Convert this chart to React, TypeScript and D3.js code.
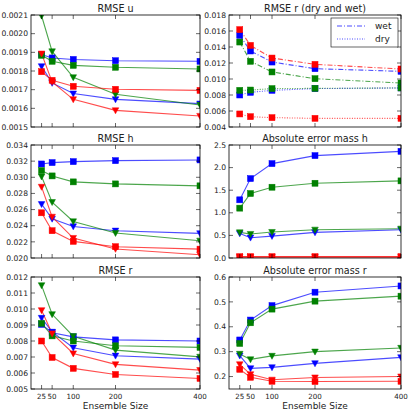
import React from "react";
import * as d3 from "d3";

const sizes = [25, 50, 100, 200, 400];
const xTickLabels = ["25", "50", "100", "200", "400"];

// RMSE u
const uBlueSq = [0.001888, 0.00187, 0.001862, 0.001855, 0.001852];
const uBlueTri = [0.001825, 0.001736, 0.001679, 0.001648, 0.001625];
const uGreenSq = [0.001884, 0.001852, 0.00183, 0.00182, 0.001811];
const uGreenTri = [0.002096, 0.001905, 0.001766, 0.001675, 0.001618];
const uRedSq = [0.001796, 0.00175, 0.001718, 0.001702, 0.001696];
const uRedTri = [0.001893, 0.001742, 0.001648, 0.001589, 0.001559];

// RMSE r (dry and wet)
const rwBlue = [0.01546, 0.0135, 0.01212, 0.01129, 0.01096];
const rwGreen = [0.01462, 0.01221, 0.01088, 0.01004, 0.0095];
const rwRed = [0.01617, 0.0142, 0.01262, 0.01183, 0.01125];
const rdBlue = [0.008, 0.00833, 0.00858, 0.0088, 0.00888];
const rdGreen = [0.00858, 0.00862, 0.0088, 0.00883, 0.00888];
const rdRed = [0.00563, 0.00529, 0.00517, 0.00508, 0.00508];

// RMSE h
const hBlueSq = [0.03165, 0.03182, 0.03194, 0.03206, 0.03215];
const hBlueTri = [0.02667, 0.02486, 0.02391, 0.02338, 0.02305];
const hGreenSq = [0.03083, 0.03017, 0.02943, 0.02918, 0.02894];
const hGreenTri = [0.03009, 0.02692, 0.02453, 0.02309, 0.02214];
const hRedSq = [0.0256, 0.02338, 0.02206, 0.0214, 0.0211];
const hRedTri = [0.02881, 0.0251, 0.02247, 0.02112, 0.0204];

// Absolute error mass h
const mhBlueSq = [1.287, 1.757, 2.088, 2.265, 2.36];
const mhBlueTri = [0.544, 0.449, 0.485, 0.566, 0.625];
const mhGreenSq = [1.103, 1.426, 1.566, 1.654, 1.706];
const mhGreenTri = [0.566, 0.53, 0.574, 0.625, 0.647];
const mhRedSq = [0.03, 0.03, 0.03, 0.03, 0.03];
const mhRedTri = [0.02, 0.02, 0.02, 0.02, 0.02];

// RMSE r
const rBlueSq = [0.00904, 0.00852, 0.00826, 0.00807, 0.008];
const rBlueTri = [0.00944, 0.00857, 0.00758, 0.00708, 0.00687];
const rGreenSq = [0.0091, 0.00832, 0.008, 0.0077, 0.0076];
const rGreenTri = [0.01148, 0.00967, 0.0083, 0.00743, 0.00701];
const rRedSq = [0.008, 0.00697, 0.00629, 0.00591, 0.00566];
const rRedTri = [0.00992, 0.00847, 0.00722, 0.00654, 0.00618];

// Absolute error mass r
const mrBlueSq = [0.347, 0.427, 0.485, 0.539, 0.564];
const mrBlueTri = [0.284, 0.233, 0.237, 0.253, 0.277];
const mrGreenSq = [0.333, 0.416, 0.471, 0.503, 0.523];
const mrGreenTri = [0.291, 0.269, 0.283, 0.3, 0.315];
const mrRedSq = [0.229, 0.197, 0.181, 0.18, 0.181];
const mrRedTri = [0.249, 0.209, 0.187, 0.196, 0.2];

const BLUE = "#0000ff";
const GREEN = "#008000";
const RED = "#ff0000";

type Series = { values: number[]; color: string; marker: "s" | "v"; dash?: string };

function std(b: number[], bt: number[], g: number[], gt: number[], r: number[], rt: number[]): Series[] {
  return [
    { values: b, color: BLUE, marker: "s" },
    { values: bt, color: BLUE, marker: "v" },
    { values: g, color: GREEN, marker: "s" },
    { values: gt, color: GREEN, marker: "v" },
    { values: r, color: RED, marker: "s" },
    { values: rt, color: RED, marker: "v" },
  ];
}

const FONT = "DejaVu Sans, sans-serif";

function Panel(props: {
  x0: number; x1: number; y0: number; y1: number;
  yDomain: [number, number]; yTicks: number[]; yFmt: (v: number) => string;
  title: string; series: Series[]; showXLabels: boolean; clipId: string;
  legend?: boolean;
}) {
  const { x0, x1, y0, y1, yDomain, yTicks, yFmt, title, series, showXLabels, clipId } = props;
  const x = d3.scaleLinear().domain([0, 400]).range([x0, x1]);
  const y = d3.scaleLinear().domain(yDomain).range([y1, y0]);
  const line = d3.line<number>().x((_, i) => x(sizes[i])).y((v) => y(v));
  const tl = 4;
  return (
    <g>
      <defs>
        <clipPath id={clipId}>
          <rect x={x0} y={y0} width={x1 - x0} height={y1 - y0} />
        </clipPath>
      </defs>
      <rect x={x0} y={y0} width={x1 - x0} height={y1 - y0} fill="white" />
      <g clipPath={`url(#${clipId})`}>
        {series.map((s, si) => (
          <path key={"l" + si} d={line(s.values) || ""} fill="none" stroke={s.color}
            strokeWidth={1.1} strokeOpacity={0.7} strokeDasharray={s.dash} />
        ))}
        {series.map((s, si) =>
          s.values.map((v, i) => {
            const cx = x(sizes[i]);
            const cy = y(v);
            if (s.marker === "s") {
              return <rect key={`m${si}-${i}`} x={cx - 3} y={cy - 3} width={6} height={6}
                fill={s.color} stroke={s.color} strokeWidth={0.5} />;
            }
            return <path key={`m${si}-${i}`} d={`M${cx - 3.3},${cy - 2.6}L${cx + 3.3},${cy - 2.6}L${cx},${cy + 3.4}Z`}
              fill={s.color} stroke={s.color} strokeWidth={0.5} />;
          })
        )}
      </g>
      {yTicks.map((t, i) => (
        <g key={"yt" + i}>
          <line x1={x0} x2={x0 + tl} y1={y(t)} y2={y(t)} stroke="#000" strokeWidth={0.6} />
          <line x1={x1} x2={x1 - tl} y1={y(t)} y2={y(t)} stroke="#000" strokeWidth={0.6} />
          <text x={x0 - 3} y={y(t)} dy="0.35em" textAnchor="end" fontSize={7.6} fontFamily={FONT} fill="#222">{yFmt(t)}</text>
        </g>
      ))}
      {sizes.map((s, i) => (
        <g key={"xt" + i}>
          <line x1={x(s)} x2={x(s)} y1={y1} y2={y1 - tl} stroke="#000" strokeWidth={0.6} />
          <line x1={x(s)} x2={x(s)} y1={y0} y2={y0 + tl} stroke="#000" strokeWidth={0.6} />
          {showXLabels && (
            <text x={x(s)} y={y1 + 9.5} textAnchor="middle" fontSize={7.1} fontFamily={FONT} fill="#222">{xTickLabels[i]}</text>
          )}
        </g>
      ))}
      <rect x={x0} y={y0} width={x1 - x0} height={y1 - y0} fill="none" stroke="#000" strokeWidth={0.8} />
      <text x={(x0 + x1) / 2} y={y0 - 3} textAnchor="middle" fontSize={9.6} fontFamily={FONT} fill="#222">{title}</text>
      {showXLabels && (
        <text x={(x0 + x1) / 2} y={y1 + 19.5} textAnchor="middle" fontSize={9} fontFamily={FONT} fill="#222">Ensemble Size</text>
      )}
      {props.legend && (
        <g>
          <rect x={x1 - 70} y={y0 + 3} width={67} height={29} fill="white" stroke="#000" strokeWidth={0.6} />
          <line x1={x1 - 64} x2={x1 - 36} y1={y0 + 11} y2={y0 + 11} stroke={BLUE} strokeOpacity={0.7} strokeWidth={1.1} strokeDasharray="5,2,1,2" />
          <text x={x1 - 26} y={y0 + 11} dy="0.35em" fontSize={9} fontFamily={FONT} fill="#222">wet</text>
          <line x1={x1 - 64} x2={x1 - 36} y1={y0 + 24} y2={y0 + 24} stroke={BLUE} strokeOpacity={0.7} strokeWidth={1.1} strokeDasharray="1,1.5" />
          <text x={x1 - 26} y={y0 + 24} dy="0.35em" fontSize={9} fontFamily={FONT} fill="#222">dry</text>
        </g>
      )}
    </g>
  );
}

const range = (a: number, b: number, s: number) => d3.range(0, Math.round((b - a) / s) + 1).map((i) => a + i * s);

export default function App() {
  const L = [31, 200];
  const R = [229, 401];
  const rows = [[15, 127], [145, 258], [277, 389]];
  const wet = "5,2,1,2";
  const dry = "1,1.5";
  const rSeries: Series[] = [
    { values: rwBlue, color: BLUE, marker: "s", dash: wet },
    { values: rwGreen, color: GREEN, marker: "s", dash: wet },
    { values: rwRed, color: RED, marker: "s", dash: wet },
    { values: rdBlue, color: BLUE, marker: "s", dash: dry },
    { values: rdGreen, color: GREEN, marker: "s", dash: dry },
    { values: rdRed, color: RED, marker: "s", dash: dry },
  ];
  return (
    <svg width={408} height={412} style={{ position: "absolute", left: 0, top: 0, background: "white" }}>
      <rect x={0} y={0} width={408} height={412} fill="white" />
      <Panel clipId="c1" x0={L[0]} x1={L[1]} y0={rows[0][0]} y1={rows[0][1]} yDomain={[0.0015, 0.0021]}
        yTicks={range(0.0015, 0.0021, 0.0001)} yFmt={d3.format(".4f")} title="RMSE u"
        series={std(uBlueSq, uBlueTri, uGreenSq, uGreenTri, uRedSq, uRedTri)} showXLabels={false} />
      <Panel clipId="c2" x0={R[0]} x1={R[1]} y0={rows[0][0]} y1={rows[0][1]} yDomain={[0.004, 0.018]}
        yTicks={range(0.004, 0.018, 0.002)} yFmt={d3.format(".3f")} title="RMSE r (dry and wet)"
        series={rSeries} showXLabels={false} legend />
      <Panel clipId="c3" x0={L[0]} x1={L[1]} y0={rows[1][0]} y1={rows[1][1]} yDomain={[0.02, 0.034]}
        yTicks={range(0.02, 0.034, 0.002)} yFmt={d3.format(".3f")} title="RMSE h"
        series={std(hBlueSq, hBlueTri, hGreenSq, hGreenTri, hRedSq, hRedTri)} showXLabels={false} />
      <Panel clipId="c4" x0={R[0]} x1={R[1]} y0={rows[1][0]} y1={rows[1][1]} yDomain={[0, 2.5]}
        yTicks={range(0, 2.5, 0.5)} yFmt={d3.format(".1f")} title="Absolute error mass h"
        series={std(mhBlueSq, mhBlueTri, mhGreenSq, mhGreenTri, mhRedSq, mhRedTri)} showXLabels={false} />
      <Panel clipId="c5" x0={L[0]} x1={L[1]} y0={rows[2][0]} y1={rows[2][1]} yDomain={[0.005, 0.012]}
        yTicks={range(0.005, 0.012, 0.001)} yFmt={d3.format(".3f")} title="RMSE r"
        series={std(rBlueSq, rBlueTri, rGreenSq, rGreenTri, rRedSq, rRedTri)} showXLabels={true} />
      <Panel clipId="c6" x0={R[0]} x1={R[1]} y0={rows[2][0]} y1={rows[2][1]} yDomain={[0.15, 0.6]}
        yTicks={range(0.2, 0.6, 0.1)} yFmt={d3.format(".1f")} title="Absolute error mass r"
        series={std(mrBlueSq, mrBlueTri, mrGreenSq, mrGreenTri, mrRedSq, mrRedTri)} showXLabels={true} />
    </svg>
  );
}
